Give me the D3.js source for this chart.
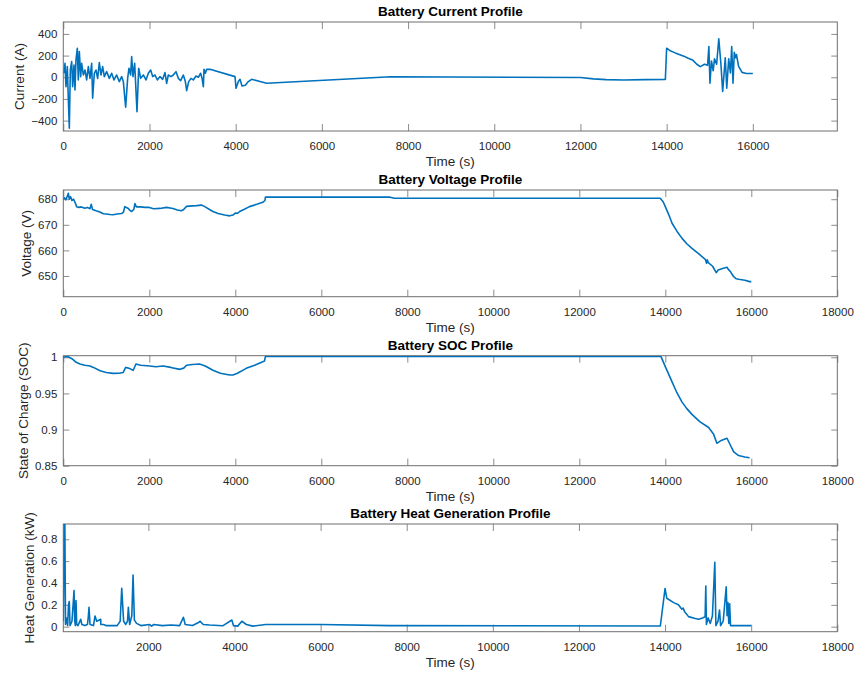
<!DOCTYPE html>
<html>
<head>
<meta charset="utf-8">
<script src="https://cdn.jsdelivr.net/npm/d3@7"></script>
<style>
  body { margin: 0; background: #fff; }
  svg { display: block; font-family: "Liberation Sans", Arial, Helvetica, sans-serif; }
</style>
</head>
<body>
<svg id="chart" width="855" height="674"></svg>
<script>
// Battery current (A) over time (s)
const currentTime = [16,39,62,93,116,140,163,194,217,248,271,294,325,348,372,403,426,465,503,542,581,619,658,681,720,758,797,836,874,913,952,1006,1068,1122,1176,1238,1300,1354,1393,1447,1493,1524,1563,1586,1617,1656,1710,1749,1795,1857,1919,1973,2027,2074,2128,2182,2244,2306,2360,2398,2437,2499,2553,2615,2669,2723,2785,2832,2863,2909,2963,3017,3079,3134,3188,3219,3250,3265,3296,3327,3404,3984,4008,4062,4101,4147,4224,4294,4371,4565,4719,7600,12000,12300,12600,13000,13500,13970,14000,14080,14200,14400,14500,14600,14700,14780,14880,14950,14980,15005,15040,15080,15110,15160,15210,15260,15300,15330,15360,15395,15440,15480,15510,15540,15570,15600,15620,15670,15750,15850,16000];
const currentAmps = [37,129,-87,98,-194,-471,67,144,-87,113,-117,160,267,-25,237,6,129,21,67,-25,98,-10,129,-194,37,67,-10,135,21,98,6,52,-10,37,-25,21,-40,6,-40,-277,-10,83,21,190,6,129,-317,83,-10,21,-25,37,67,6,21,-25,6,-19,43,-56,21,6,21,52,-10,-31,21,-40,-124,-40,-10,-25,12,0,37,-10,-87,73,37,73,73,6,-102,-40,-19,-80,-74,-40,-19,-40,-56,5,-2,-15,-22,-25,-22,-20,268,245,225,195,175,160,120,98,120,110,283,-55,150,60,170,120,355,120,-130,20,180,-100,170,40,283,-55,230,180,210,100,45,35,35];

// Battery terminal voltage (V)
const voltageTime = [0,30,60,90,117,140,170,200,240,280,310,360,420,500,560,620,650,680,760,850,930,1000,1080,1160,1250,1355,1400,1430,1500,1560,1590,1640,1665,1700,1790,1900,2000,2100,2245,2400,2550,2650,2748,2800,2865,3000,3100,3212,3300,3400,3480,3600,3750,3870,3945,4000,4050,4100,4200,4330,4500,4640,4690,4700,7600,7700,13880,13950,14000,14080,14157,14270,14390,14500,14620,14780,14930,14960,14975,15000,15100,15185,15230,15280,15350,15435,15470,15510,15560,15590,15650,15705,15850,15960,16000];
const voltageVolts = [680,680.5,679.8,681,682.3,680,681,679.5,680,678.5,677.1,676.8,677,676.5,676.8,676.3,678,676,675.5,675,674.3,674.2,674,673.9,674.2,674.4,675,677.1,676.5,675.5,675.2,676,678.3,677,677,676.8,676.8,676.3,676.4,676.8,676.4,675.8,675.5,676,677.2,677.4,677.5,677.7,677,676,675.2,674.4,673.8,673.5,673.8,674.6,674.5,675.2,676,677.1,678,678.8,679.5,680.8,680.8,680.4,680.4,679,677.1,674,670.6,667.5,664.7,662.6,660.8,658.6,656.5,655,656.3,655.2,653.8,651.3,652.3,652.6,653,653.4,652.5,651.8,650.5,649.7,648.9,648.7,648.3,647.8,647.8];

// Battery state of charge (fraction)
const socTime = [0,100,200,300,387,500,620,700,855,1000,1160,1300,1393,1450,1520,1625,1690,1800,2010,2150,2320,2500,2710,2800,2865,3000,3170,3300,3480,3650,3870,3945,4050,4255,4450,4640,4680,4700,13900,14000,14157,14270,14390,14500,14620,14800,15008,15120,15200,15300,15435,15500,15590,15705,15850,15960];
const socValue = [1.0,1.001,0.998,0.993,0.9907,0.989,0.988,0.986,0.9814,0.979,0.9778,0.978,0.979,0.986,0.985,0.982,0.9907,0.989,0.988,0.987,0.988,0.986,0.9833,0.985,0.989,0.990,0.9907,0.988,0.982,0.978,0.9754,0.9756,0.978,0.9847,0.989,0.9939,0.995,1.001,1.001,0.987,0.966,0.951,0.938,0.929,0.921,0.911,0.9028,0.894,0.881,0.885,0.888,0.880,0.869,0.864,0.862,0.861];

// Battery heat generation (kW)
const heatTime = [24,45,60,75,100,125,145,163,180,225,255,273,290,305,319,335,365,428,455,525,585,605,621,645,725,800,761,895,955,893,1015,1125,1275,1345,1381,1425,1475,1515,1535,1565,1615,1644,1675,1725,1825,2025,2075,2125,2325,2525,2725,2813,2855,3025,3175,3200,3275,3425,3725,3938,3975,4075,4170,4275,4425,4725,6000,7600,13890,14000,14040,14200,14310,14390,14420,14450,14545,14700,14780,14870,14930,14946,14960,15000,15050,15100,15155,15180,15230,15265,15290,15350,15420,15440,15460,15480,15500,15520,15620,16000];
const heatKW = [0.05,0.94,0.94,0.02,0.08,0.01,0.2,0.23,0.01,0.05,0.22,0.33,0.05,0.01,0.24,0.02,0.01,0.068,0.02,0.01,0.02,0.09,0.178,0.02,0.01,0.05,0.098,0.02,0.02,0.068,0.01,0.01,0.01,0.05,0.351,0.05,0.02,0.05,0.178,0.02,0.1,0.473,0.06,0.03,0.01,0.02,0.005,0.02,0.01,0.015,0.01,0.086,0.02,0.01,0.04,0.05,0.02,0.015,0.008,0.061,0.01,0.005,0.05,0.02,0.005,0.02,0.02,0.01,0.006,0.35,0.26,0.22,0.2,0.16,0.17,0.14,0.092,0.075,0.068,0.08,0.09,0.373,0.02,0.08,0.03,0.1,0.59,0.01,0.05,0.153,0.01,0.05,0.366,0.1,0.22,0.03,0.21,0.01,0.01,0.01];

// Axis ticks
const timeTicks = [0,2000,4000,6000,8000,10000,12000,14000,16000,18000];
const currentTicks = [-400,-200,0,200,400];
const voltageTicks = [650,660,670,680];
const socTicks = [0.85,0.9,0.95,1];
const heatTicks = [0,0.2,0.4,0.6,0.8];

const zipPoints = (xs, ys) => xs.map((x, i) => [x, ys[i]]).sort((a, b) => a[0] - b[0]);

const panels = [
  { title: "Battery Current Profile", ylabel: "Current (A)", top: 22, bottom: 131,
    xd: [0, 17960], yd: [-496, 510], yt: currentTicks, fmt: d3.format("d"),
    pts: zipPoints(currentTime, currentAmps) },
  { title: "Battery Voltage Profile", ylabel: "Voltage (V)", top: 190, bottom: 296.7,
    xd: [0, 18000], yd: [641.9, 683.6], yt: voltageTicks, fmt: d3.format("d"),
    pts: zipPoints(voltageTime, voltageVolts) },
  { title: "Battery SOC Profile", ylabel: "State of Charge (SOC)", top: 355.7, bottom: 465.7,
    xd: [0, 18000], yd: [0.85, 1.0022], yt: socTicks, fmt: d => String(+d.toFixed(2)),
    pts: zipPoints(socTime, socValue) },
  { title: "Battery Heat Generation Profile", ylabel: "Heat Generation (kW)", top: 524, bottom: 631.7,
    xd: [24, 18000], yd: [-0.046, 0.94], yt: heatTicks, fmt: d => String(+d.toFixed(1)),
    pts: zipPoints(heatTime, heatKW) }
];

const left = 63.3, right = 837.3;
const svg = d3.select("#chart");
const axisColor = "#262626";

panels.forEach((p, i) => {
  const x = d3.scaleLinear().domain(p.xd).range([left, right]);
  const y = d3.scaleLinear().domain(p.yd).range([p.bottom, p.top]);
  const g = svg.append("g");
  const xt = timeTicks.filter(t => t >= p.xd[0] && t <= p.xd[1]);

  // bottom / top axes with inward ticks
  const bottomAxis = g.append("g").attr("transform", `translate(0,${p.bottom})`)
    .call(d3.axisBottom(x).tickValues(xt).tickSize(-7).tickPadding(11).tickFormat(d3.format("d")));
  const topAxis = g.append("g").attr("transform", `translate(0,${p.top})`)
    .call(d3.axisTop(x).tickValues(xt).tickSize(-7).tickFormat(""));
  const leftAxis = g.append("g").attr("transform", `translate(${left},0)`)
    .call(d3.axisLeft(y).tickValues(p.yt).tickSize(-6).tickPadding(6).tickFormat(p.fmt));
  const rightAxis = g.append("g").attr("transform", `translate(${right},0)`)
    .call(d3.axisRight(y).tickValues(p.yt).tickSize(-6).tickFormat(""));

  [bottomAxis, topAxis, leftAxis, rightAxis].forEach(a => {
    a.select(".domain").remove();
    a.selectAll(".tick line").attr("stroke", "#6e6e6e").attr("stroke-width", 0.8);
    a.selectAll(".tick text").attr("fill", axisColor)
      .style("font-size", "11.5px").style("font-family", "Liberation Sans, Arial, sans-serif");
  });

  // plot box
  g.append("rect").attr("x", left).attr("y", p.top)
    .attr("width", right - left).attr("height", p.bottom - p.top)
    .attr("fill", "none").attr("stroke", "#6e6e6e").attr("stroke-width", 1);

  // data line, clipped to the plot box
  const clipId = "clip" + i;
  svg.append("clipPath").attr("id", clipId).append("rect")
    .attr("x", left).attr("y", p.top).attr("width", right - left).attr("height", p.bottom - p.top);
  g.append("path").datum(p.pts)
    .attr("clip-path", `url(#${clipId})`)
    .attr("fill", "none").attr("stroke", "#0072BD").attr("stroke-width", 1.6)
    .attr("stroke-linejoin", "round")
    .attr("d", d3.line().x(d => x(d[0])).y(d => y(d[1])));

  // title
  g.append("text").attr("x", (left + right) / 2).attr("y", p.top - 6)
    .attr("text-anchor", "middle").attr("font-weight", "bold").attr("font-size", "13.5px")
    .attr("fill", "#000").text(p.title);

  // x label
  g.append("text").attr("x", (left + right) / 2).attr("y", p.bottom + 35)
    .attr("text-anchor", "middle").attr("font-size", "13.5px").attr("fill", axisColor)
    .text("Time (s)");

  // y label placed just left of the widest tick label
  let minX = left;
  leftAxis.selectAll(".tick text").each(function () {
    const b = this.getBBox();
    const m = this.getCTM();
    minX = Math.min(minX, m.e + b.x);
  });
  const cy = (p.top + p.bottom) / 2;
  const lx = minX - 7;
  g.append("text").attr("transform", `translate(${lx},${cy}) rotate(-90)`)
    .attr("text-anchor", "middle").attr("font-size", "13.5px").attr("fill", axisColor)
    .text(p.ylabel);
});
</script>
</body>
</html>
